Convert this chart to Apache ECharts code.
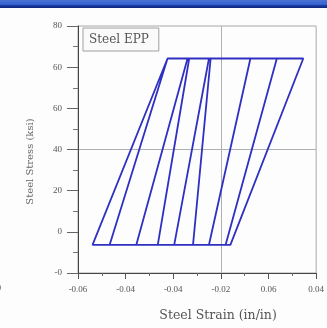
<!DOCTYPE html>
<html>
<head>
<meta charset="utf-8">
<script src="https://cdn.jsdelivr.net/npm/echarts@6/dist/echarts.min.js"></script>
<style>
html,body{margin:0;padding:0;background:#fdfdfd;}
#c{width:327px;height:328px;}
</style>
</head>
<body>
<div id="c"></div>
<script>
// Tick labels as shown in the reference
const xTickLabels = ['-0.06', '-0.04', '-0.04', '-0.02', '0.06', '0.04'];
const yTickLabels = ['-0', '0', '20', '40', '60', '60', '80'];
const xMin = -0.06, xMax = 0.04, xStep = 0.02;
const yMin = -40, yMax = 80, yStep = 20;

// Hysteresis path of the steel EPP model (strain, stress)
const strain = [0.0040, 0.0346, -0.0224, -0.0539, -0.0467, -0.0224, -0.0140, -0.0355, -0.0265, -0.0133,
                -0.0050, -0.0196, -0.0117, -0.0043, 0.0124, -0.0050, 0.0020, 0.0235, 0.0346, 0.0040, -0.0539];
const stress = [-26.3, 64.2, 64.2, -26.3, -26.3, 64.2, 64.2, -26.3, -26.3, 64.2,
                64.2, -26.3, -26.3, 64.2, 64.2, -26.3, -26.3, 64.2, 64.2, -26.3, -26.3];
const seriesName = 'Steel EPP';

const data = strain.map((s, i) => [s, stress[i]]);
const hide = 'rgba(0,0,0,0)';
const serif = 'Liberation Serif';
const wideSerif = 'DejaVu Serif';

const chart = echarts.init(document.getElementById('c'), null, {renderer: 'canvas'});
chart.setOption({
  animation: false,
  backgroundColor: '#fdfdfd',
  grid: {left: 78, right: 8, top: 26, bottom: 55, show: true, borderColor: '#a8a8a8', borderWidth: 1},
  legend: {
    show: true, left: 83, top: 28, icon: 'none', itemWidth: 0, itemGap: 0,
    padding: [5, 10, 5, 1], borderColor: '#a0a0a0', borderWidth: 1, backgroundColor: '#fafafa',
    textStyle: {fontFamily: wideSerif, fontSize: 12, color: '#555'},
    data: [seriesName]
  },
  xAxis: {
    type: 'value', min: xMin, max: xMax, interval: xStep,
    name: 'Steel Strain (in/in)', nameLocation: 'middle', nameGap: 36,
    nameTextStyle: {fontFamily: wideSerif, fontSize: 12.5, color: '#555', padding: [0, 0, 0, 42]},
    axisLine: {show: true, onZero: false, lineStyle: {color: '#444', width: 1}},
    axisTick: {show: true, inside: false, length: 6, lineStyle: {color: '#555'}},
    minorTick: {show: true, splitNumber: 2, length: 3, lineStyle: {color: '#666'}},
    axisLabel: {fontFamily: serif, fontSize: 9, color: '#555', margin: 12,
      formatter: v => xTickLabels[Math.round((v - xMin) / xStep)]},
    splitLine: {show: true, lineStyle: {color: [hide, hide, hide, '#b0b0b0', hide, hide], width: 1}}
  },
  yAxis: {
    type: 'value', min: yMin, max: yMax, interval: yStep,
    name: 'Steel Stress (ksi)', nameLocation: 'middle', nameGap: 43,
    nameTextStyle: {fontFamily: wideSerif, fontSize: 10, color: '#666', padding: [0, 24, 0, 0]},
    axisLine: {show: true, onZero: false, lineStyle: {color: '#444', width: 1}},
    axisTick: {show: true, inside: false, length: 11, lineStyle: {color: '#666'}},
    minorTick: {show: true, splitNumber: 2, length: 5, lineStyle: {color: '#777'}},
    axisLabel: {fontFamily: serif, fontSize: 9, color: '#555', margin: 16,
      formatter: v => yTickLabels[Math.round((v - yMin) / yStep)]},
    splitLine: {show: true, lineStyle: {color: [hide, hide, hide, '#b0b0b0', hide, hide, hide], width: 1}}
  },
  graphic: [
    {type: 'rect', left: 0, top: 0, z: 100, shape: {width: 327, height: 8},
      style: {fill: new echarts.graphic.LinearGradient(0, 0, 0, 1, [
        {offset: 0, color: '#4a72d2'}, {offset: 0.55, color: '#3563d2'},
        {offset: 0.7, color: '#1a3a9e'}, {offset: 1, color: '#0c2580'}])}},
    {type: 'text', left: -4, top: 283, style: {text: '0', fontFamily: serif, fontSize: 10, fill: '#444'}}
  ],
  series: [{
    name: seriesName, type: 'line', data: data, showSymbol: false, symbol: 'none',
    lineStyle: {color: '#2f30c2', width: 1.8}, itemStyle: {color: '#2f30c2'}
  }]
});
</script>
</body>
</html>
